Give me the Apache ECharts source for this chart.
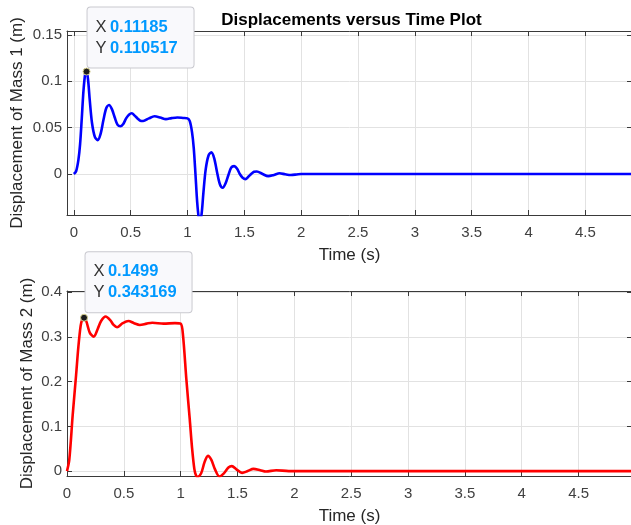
<!DOCTYPE html>
<html>
<head>
<meta charset="utf-8">
<script src="https://cdn.jsdelivr.net/npm/echarts@6/dist/echarts.min.js"></script>
<style>
  html, body { margin: 0; padding: 0; background: #fff; }
  #chart { width: 631px; height: 525px; }
</style>
</head>
<body>
<div id="chart"></div>
<script>
// mass 1 response
const timeMass1 = [0, 0.02, 0.04, 0.055, 0.07, 0.085, 0.1, 0.112, 0.125, 0.14, 0.16, 0.185, 0.21,
  0.235, 0.26, 0.285, 0.31, 0.335, 0.36, 0.385, 0.41, 0.435, 0.46, 0.485, 0.51, 0.535, 0.56,
  0.585, 0.61, 0.66, 0.71, 0.76, 0.81, 0.86, 0.91, 0.96, 1.0,
  1.02, 1.04, 1.055, 1.07, 1.085, 1.1, 1.112, 1.125, 1.14, 1.16, 1.185, 1.21, 1.235, 1.26,
  1.285, 1.31, 1.335, 1.36, 1.385, 1.41, 1.435, 1.46, 1.485, 1.51, 1.535, 1.56, 1.585, 1.61,
  1.66, 1.71, 1.76, 1.81, 1.86, 1.91, 1.96, 2.0, 2.2, 5.0];
const dispMass1 = [0, 0.003, 0.015, 0.032, 0.06, 0.09, 0.108, 0.1105, 0.102, 0.08, 0.055, 0.04, 0.0366,
  0.043, 0.058, 0.071, 0.0745, 0.07, 0.061, 0.053, 0.0515, 0.054, 0.06, 0.064, 0.0655, 0.063, 0.06,
  0.0575, 0.0572, 0.06, 0.0623, 0.061, 0.0592, 0.0603, 0.061, 0.0605, 0.06,
  0.057, 0.045, 0.028, 0.0, -0.03, -0.048, -0.0505, -0.042, -0.02, 0.005, 0.02, 0.0234, 0.017, 0.002,
  -0.011, -0.0148, -0.01, -0.001, 0.007, 0.0085, 0.006, 0.0, -0.004, -0.0055, -0.003, 0.0, 0.0025, 0.0028,
  0.0, -0.0023, -0.001, 0.0008, -0.0003, -0.001, -0.0005, 0, 0, 0];

// mass 2 response
const timeMass2 = [0, 0.02, 0.05, 0.08, 0.1, 0.12, 0.135, 0.15, 0.17, 0.2, 0.235, 0.27, 0.3, 0.34,
  0.38, 0.41, 0.44, 0.49, 0.54, 0.59, 0.64, 0.7, 0.75, 0.85, 0.95, 1.0,
  1.02, 1.05, 1.08, 1.1, 1.12, 1.135, 1.15, 1.18, 1.21, 1.24, 1.27, 1.3, 1.34, 1.38, 1.42, 1.45,
  1.49, 1.54, 1.59, 1.64, 1.7, 1.75, 1.84, 1.95, 2.0, 2.2, 5.0];
const dispMass2 = [0, 0.025, 0.125, 0.215, 0.278, 0.325, 0.34, 0.343, 0.335, 0.31, 0.301, 0.318, 0.336, 0.346,
  0.338, 0.327, 0.322, 0.331, 0.336, 0.331, 0.327, 0.33, 0.332, 0.33, 0.331, 0.33,
  0.305, 0.205, 0.115, 0.052, 0.005, -0.01, -0.013, -0.005, 0.02, 0.034, 0.025, 0.005, -0.012, -0.005, 0.008, 0.011,
  0.004, -0.004, 0.0, 0.005, 0.002, -0.001, 0.002, 0.0, 0, 0, 0];

// data tips
const tipMass1 = ["0.11185", "0.110517"];
const tipMass2 = ["0.1499", "0.343169"];

const timeTicks = [0, 0.5, 1, 1.5, 2, 2.5, 3, 3.5, 4, 4.5];
const ticksMass1 = [0, 0.05, 0.1, 0.15];
const ticksMass2 = [0, 0.1, 0.2, 0.3, 0.4];

const FONT = "'Liberation Sans', Arial, Helvetica, sans-serif";
const AXIS_COLOR = "#3a3a3a";
const GRID_COLOR = "#e2e2e2";

function mainX(grid, min, max) {
  return {
    type: "value", gridIndex: grid, min: min, max: max, position: "bottom",
    name: "Time (s)", nameLocation: "middle", nameGap: 32,
    nameTextStyle: { fontFamily: FONT, fontSize: 17, color: "#262626" },
    axisLine: { onZero: false, lineStyle: { color: AXIS_COLOR, width: 1 } },
    axisTick: { inside: true, length: 5, customValues: timeTicks, lineStyle: { color: AXIS_COLOR } },
    axisLabel: { customValues: timeTicks, margin: 10, fontFamily: FONT, fontSize: 15, color: "#404040" },
    splitLine: { show: true, lineStyle: { color: GRID_COLOR, width: 1 } },
  };
}

function boxX(grid, min, max) {
  return {
    type: "value", gridIndex: grid, min: min, max: max, position: "top",
    axisLine: { onZero: false, lineStyle: { color: AXIS_COLOR, width: 1 } },
    axisTick: { inside: true, length: 5, customValues: timeTicks, lineStyle: { color: AXIS_COLOR } },
    axisLabel: { show: false },
    splitLine: { show: false },
  };
}

function mainY(grid, min, max, ticks, name, gap) {
  return {
    type: "value", gridIndex: grid, min: min, max: max, position: "left",
    name: name, nameLocation: "middle", nameGap: gap, nameMoveOverlap: false,
    nameTextStyle: { fontFamily: FONT, fontSize: 17, color: "#262626" },
    axisLine: { show: true, onZero: false, lineStyle: { color: AXIS_COLOR, width: 1 } },
    axisTick: { show: true, inside: true, length: 5, customValues: ticks, lineStyle: { color: AXIS_COLOR } },
    axisLabel: { customValues: ticks, margin: 5, fontFamily: FONT, fontSize: 15, color: "#404040" },
    splitLine: { show: true, lineStyle: { color: GRID_COLOR, width: 1 } },
  };
}

function boxY(grid, min, max, ticks) {
  return {
    type: "value", gridIndex: grid, min: min, max: max, position: "right",
    axisLine: { show: true, onZero: false, lineStyle: { color: AXIS_COLOR, width: 1 } },
    axisTick: { show: true, inside: true, length: 5, customValues: ticks, lineStyle: { color: AXIS_COLOR } },
    axisLabel: { show: false },
    splitLine: { show: false },
  };
}

function dataTip(tip, offset) {
  return {
    symbol: "circle",
    symbolSize: 7,
    itemStyle: { color: "#1c1c1c", borderColor: "#d9d28f", borderWidth: 1 },
    data: [{ coord: [Number(tip[0]), Number(tip[1])] }],
    label: {
      show: true,
      position: offset,
      formatter: `{k|X} {v|${tip[0]}}\n{k|Y} {v|${tip[1]}}`,
      backgroundColor: "#f9f9fc",
      borderColor: "#c9c9cf",
      borderWidth: 1,
      borderRadius: 3,
      padding: [9, 10, 9, 8],
      width: 88,
      rich: {
        k: { fontFamily: FONT, fontSize: 16.5, color: "#333333", lineHeight: 21 },
        v: { fontFamily: FONT, fontSize: 16.5, fontWeight: "bold", color: "#0099ff", lineHeight: 21 },
      },
    },
  };
}

const chart = echarts.init(document.getElementById("chart"), null, { renderer: "canvas" });

const option = {
  backgroundColor: "#fff",
  animation: false,
  title: {
    text: "Displacements versus Time Plot",
    left: 346.5,
    top: 7,
    textAlign: "center",
    textStyle: { fontFamily: FONT, fontSize: 17, fontWeight: "bold", color: "#000" },
  },
  grid: [
    { left: 67, top: 31, right: -1, height: 184, outerBoundsMode: "none" },
    { left: 67, top: 291, right: -1, height: 185, outerBoundsMode: "none" },
  ],
  xAxis: [
    mainX(0, -0.06, 4.91),
    boxX(0, -0.06, 4.91),
    mainX(1, 0, 4.97),
    boxX(1, 0, 4.97),
  ],
  yAxis: [
    mainY(0, -0.0442, 0.1543, ticksMass1, "Displacement of Mass 1 (m)", 41),
    boxY(0, -0.0442, 0.1543, ticksMass1),
    mainY(1, -0.011, 0.403, ticksMass2, "Displacement of Mass 2 (m)", 31),
    boxY(1, -0.011, 0.403, ticksMass2),
  ],
  series: [
    {
      name: "Mass 1",
      type: "line",
      xAxisIndex: 0,
      yAxisIndex: 0,
      data: timeMass1.map((t, i) => [t, dispMass1[i]]),
      showSymbol: false,
      smooth: 0.3,
      clip: true,
      lineStyle: { color: "#0000ff", width: 2.6 },
      markPoint: dataTip(tipMass1, [5, -60]),
    },
    {
      name: "Mass 2",
      type: "line",
      xAxisIndex: 2,
      yAxisIndex: 2,
      data: timeMass2.map((t, i) => [t, dispMass2[i]]),
      showSymbol: false,
      smooth: 0.3,
      clip: true,
      lineStyle: { color: "#ff0000", width: 2.6 },
      markPoint: dataTip(tipMass2, [5.5, -61.5]),
    },
  ],
};

chart.setOption(option);
</script>
</body>
</html>
